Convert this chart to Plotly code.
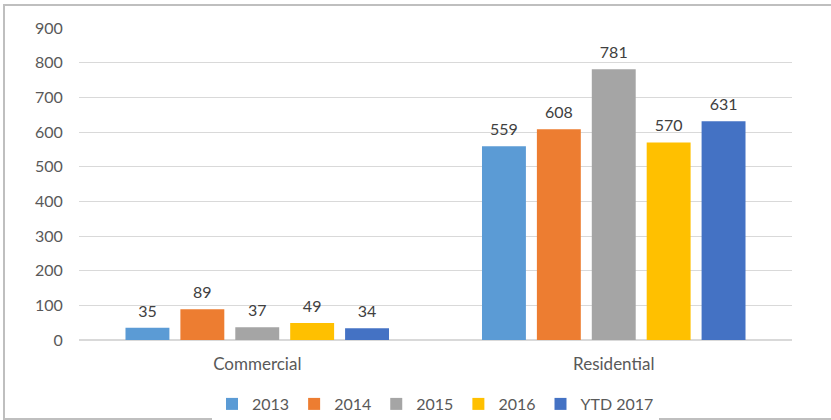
import plotly.graph_objects as go

categories = ["Commercial", "Residential"]
series_names = ["2013", "2014", "2015", "2016", "YTD 2017"]
values_2013 = [35, 559]
values_2014 = [89, 608]
values_2015 = [37, 781]
values_2016 = [49, 570]
values_ytd2017 = [34, 631]
series_values = [values_2013, values_2014, values_2015, values_2016, values_ytd2017]
colors = ["#5B9BD5", "#ED7D31", "#A5A5A5", "#FFC000", "#4472C4"]
y_ticks = [0, 100, 200, 300, 400, 500, 600, 700, 800, 900]

FONT = "Lato, 'Open Sans', sans-serif"
LABEL_PAD = 15  # gap between bar top and its value label, in axis units

fig = go.Figure()
for name, vals, col in zip(series_names, series_values, colors):
    fig.add_trace(go.Bar(
        x=categories, y=vals, name=name, offsetgroup=name,
        marker=dict(color=col, line=dict(width=0)),
        hoverinfo="skip",
    ))
for name, vals in zip(series_names, series_values):
    fig.add_trace(go.Bar(
        x=categories, y=[LABEL_PAD] * len(vals), base=vals, offsetgroup=name,
        marker=dict(color="rgba(0,0,0,0)", line=dict(width=0)),
        text=[str(v) for v in vals], textposition="outside",
        textfont=dict(family=FONT, size=16, color="#404040"),
        cliponaxis=False, showlegend=False, hoverinfo="skip",
    ))

W, H = 831, 420
ml, mr, mt, mb = 79, 39, 28, 80
pw, ph = W - ml - mr, H - mt - mb

fig.update_layout(
    width=W, height=H,
    margin=dict(l=ml, r=mr, t=mt, b=mb, autoexpand=False),
    paper_bgcolor="white", plot_bgcolor="white",
    barmode="group", bargap=0.23, bargroupgap=0.2,
    font=dict(family=FONT, size=15, color="#595959"),
    showlegend=True,
    legend=dict(orientation="h", x=0.5, xanchor="center", y=(340 - 404) / ph, yanchor="middle",
                font=dict(family=FONT, size=16, color="#595959"), itemwidth=30,
                traceorder="normal"),
    xaxis=dict(showgrid=False, showline=False, ticks="outside", ticklen=9, tickcolor="rgba(0,0,0,0)",
               tickfont=dict(family=FONT, size=17, color="#595959")),
    yaxis=dict(range=[0, 900], tickvals=y_ticks, showgrid=True, gridcolor="#D9D9D9", gridwidth=1,
               zeroline=True, zerolinecolor="#D9D9D9", zerolinewidth=1.5,
               ticks="outside", ticklen=12, tickcolor="rgba(0,0,0,0)",
               tickfont=dict(family=FONT, size=16, color="#595959")),
    shapes=[dict(type="rect", xref="paper", yref="paper",
                 x0=(4 - ml) / pw, x1=(833 - ml) / pw,
                 y0=(H - mb - 419) / ph, y1=(H - mb - 5) / ph,
                 line=dict(color="#BFBFBF", width=2), fillcolor="rgba(0,0,0,0)", layer="below")],
)

fig.write_html("out.html", config={"displayModeBar": False},
               post_script="document.body.style.margin='0';document.body.style.padding='0';"
                           "document.documentElement.style.overflow='hidden';")
